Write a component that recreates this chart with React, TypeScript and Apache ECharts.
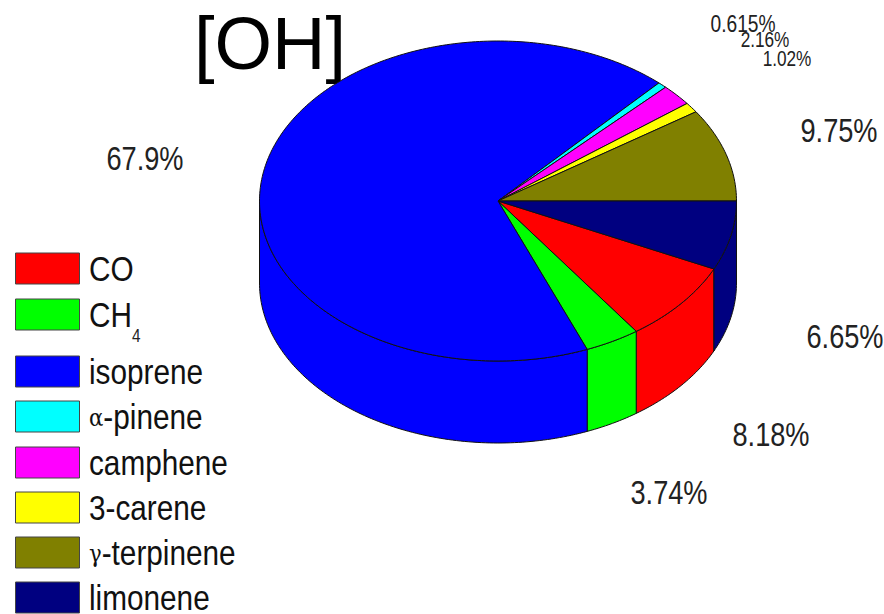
import React, { useEffect, useRef } from "react";
import * as echarts from "echarts";

const names = ["CO", "CH", "isoprene", "-pinene", "camphene", "3-carene", "-terpinene", "limonene"];
const values = [8.18, 3.74, 67.9, 0.615, 2.16, 1.02, 9.75, 6.65];
const percentLabels = ["8.18%", "3.74%", "67.9%", "0.615%", "2.16%", "1.02%", "9.75%", "6.65%"];
const greekPrefixes = ["", "", "", "α", "", "", "γ", ""];
const colors = ["#ff0000", "#00ff00", "#0000ff", "#00ffff", "#ff00ff", "#ffff00", "#808000", "#000080"];
const labelCenters = [[771, 434], [669, 492], [145, 158], [743, 24], [765, 39], [787, 58], [839, 130], [845, 336]];
const labelSizes = [34, 34, 34, 24, 21.5, 21.5, 34, 34];
const legendRows = [269, 315, 372, 417, 463, 508, 553, 598];

const CX = 498, CY = 201, RX = 238.5, RY = 160, DEPTH = 82, VIEW_SHIFT = 1.2;
const total = values.reduce((a, b) => a + b, 0);
const startDeg = (360 * values[values.length - 1]) / total + VIEW_SHIFT;
const SANS = '"Liberation Sans", Arial, sans-serif';
const pt = (deg: number, dy = 0) => {
  const t = (deg * Math.PI) / 180;
  return [CX + RX * Math.cos(t), CY + RY * Math.sin(t) + dy];
};
const arc = (a: number, b: number, dy = 0) => {
  const out: number[][] = [];
  const n = Math.max(2, Math.ceil(Math.abs(b - a)));
  for (let i = 0; i <= n; i++) out.push(pt(a + ((b - a) * i) / n, dy));
  return out;
};

export default function App() {
  const ref = useRef<HTMLDivElement>(null);
  useEffect(() => {
    document.body.style.margin = "0";
    const chart = echarts.init(ref.current!, null, { renderer: "svg" });
    const renderItem = (params: any, api: any) => {
      const i = params.dataIndex;
      const before = values.slice(0, i).reduce((x, y) => x + y, 0);
      const last = values.length - 1;
      let a = startDeg + (360 * before) / total;
      let b = a + (360 * api.value(0)) / total;
      if (i === last) a = 360;
      if (i === last - 1) b = 360;
      if (i === last) b = startDeg + 360;
      const style = { fill: colors[i], stroke: "#111", lineWidth: 1 };
      const children: any[] = [];
      const spans = [[Math.max(a, 0), Math.min(b, 180)], [Math.max(a, 360), Math.min(b, 540)]];
      spans.forEach(([s, e]) => {
        if (e > s) {
          children.push({
            type: "polygon",
            shape: { points: [...arc(s, e), ...arc(e, s, DEPTH)] },
            style,
          });
        }
      });
      children.push({
        type: "polygon",
        shape: { points: [[CX, CY], ...arc(a, b)] },
        style,
      });
      return { type: "group", children };
    };
    const graphics: any[] = [
      {
        type: "text", x: 270, y: 43,
        style: { text: "[OH]", fontSize: 74, fontFamily: SANS, fill: "#000", align: "center", verticalAlign: "middle" },
      },
    ];
    percentLabels.forEach((text, i) => {
      graphics.push({
        type: "text", x: labelCenters[i][0], y: labelCenters[i][1], scaleX: 0.8,
        style: { text, fontSize: labelSizes[i], fontFamily: SANS, fill: "#222", align: "center", verticalAlign: "middle" },
      });
    });
    names.forEach((name, i) => {
      const y = legendRows[i];
      graphics.push({
        type: "rect",
        shape: { x: 15.5, y: y - 16, width: 64, height: 31 },
        style: { fill: colors[i], stroke: "#444", lineWidth: 1 },
      });
      const greek = greekPrefixes[i];
      graphics.push({
        type: "text", x: 89, y, scaleX: 0.85,
        style: {
          text: greek ? `{g|${greek}}${name}` : name,
          fontSize: 35, lineHeight: 30, fontFamily: SANS, fill: "#111", verticalAlign: "middle",
          rich: { g: { fontFamily: "DejaVu Serif, Liberation Serif, serif", fontSize: 25, fill: "#111" } },
        },
      });
    });
    graphics.push({
      type: "text", x: 132, y: 336, scaleX: 0.85,
      style: { text: "4", fontSize: 18, fontFamily: SANS, fill: "#222", verticalAlign: "middle" },
    });
    chart.setOption({
      animation: false,
      backgroundColor: "#ffffff",
      graphic: graphics,
      series: [
        {
          type: "custom",
          coordinateSystem: "none",
          clip: false,
          silent: true,
          renderItem,
          data: values.map((v, i) => ({ name: names[i], value: [v] })),
        },
      ],
    });
    return () => chart.dispose();
  }, []);
  return <div ref={ref} style={{ position: "fixed", left: 0, top: 0, width: 884, height: 614 }} />;
}
